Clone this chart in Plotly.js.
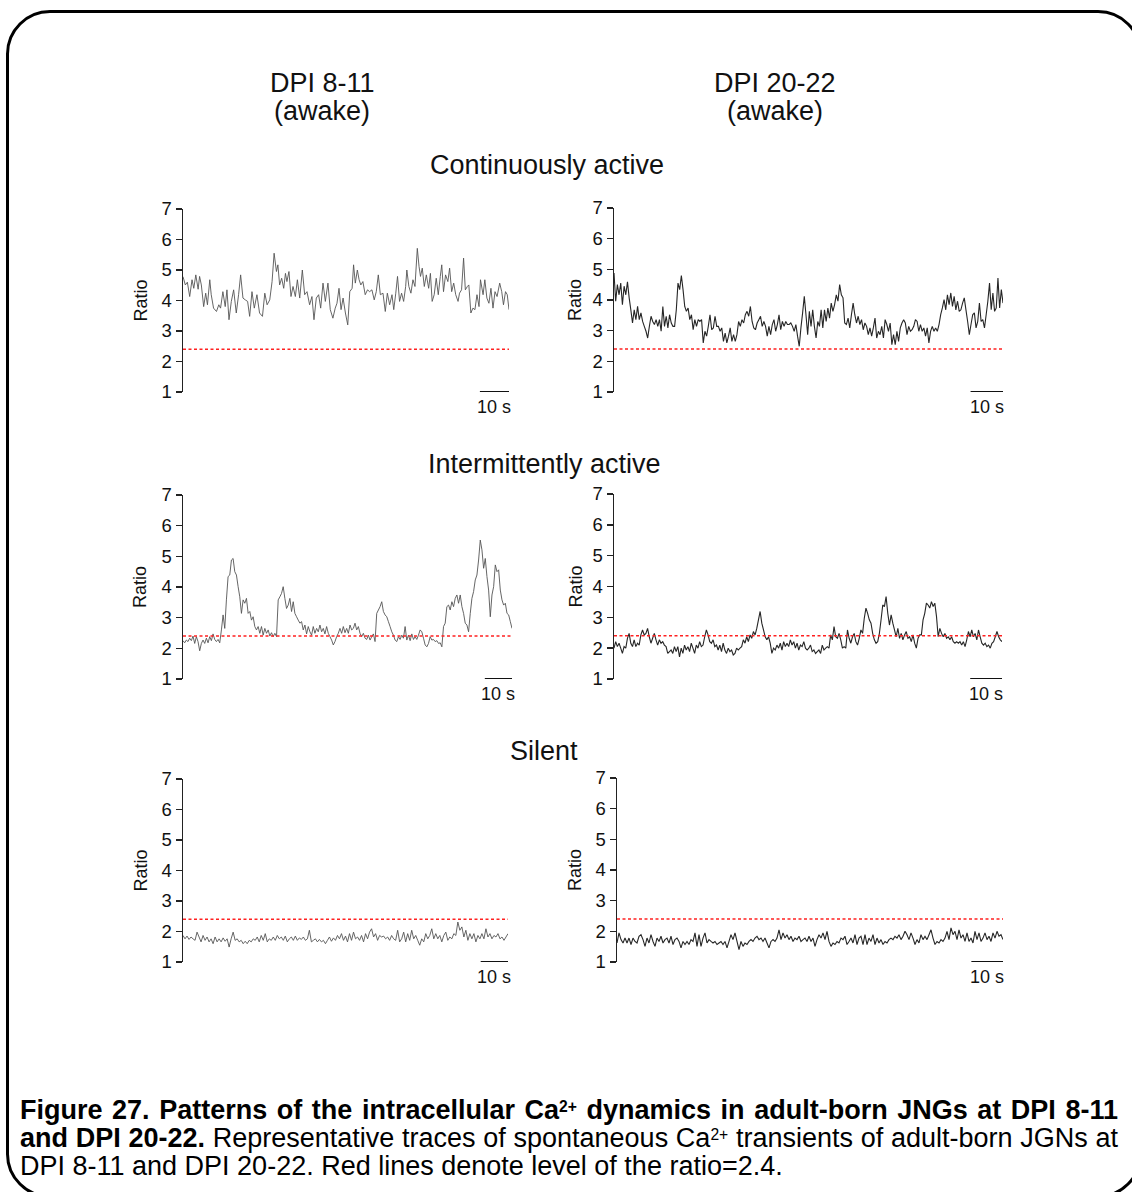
<!DOCTYPE html>
<html>
<head>
<meta charset="utf-8">
<script src="https://cdn.plot.ly/plotly-3.0.1.min.js"></script>
<style>
  html, body { margin: 0; padding: 0; background: #fff; overflow: hidden; }
  #wrap { position: relative; width: 1132px; height: 1192px; overflow: hidden; }
  #chart { position: absolute; left: 0; top: 0; width: 1132px; height: 1192px; }
  #frame { position: absolute; left: 6px; top: 10px; width: 1136px; height: 1188px;
           border: 3px solid #000; border-radius: 44px; box-sizing: border-box; pointer-events: none; }
  #caption { position: absolute; left: 20px; top: 1096px; width: 1098px;
             font-family: "Liberation Sans", Arial, sans-serif; font-size: 27px; line-height: 28px; color: #000; }
  #caption .j { text-align: justify; text-align-last: justify; }
  #caption sup { font-size: 0.58em; line-height: 1; vertical-align: 0.45em; }
</style>
</head>
<body>
<div id="wrap">
  <div id="chart"></div>
  <div id="frame"></div>
  <div id="caption">
    <div class="j"><b>Figure 27. Patterns of the intracellular Ca<sup>2+</sup> dynamics in adult-born JNGs at DPI 8-11</b></div>
    <div class="j"><b>and DPI 20-22.</b> Representative traces of spontaneous Ca<sup>2+</sup> transients of adult-born JGNs at</div>
    <div>DPI 8-11 and DPI 20-22. Red lines denote level of the ratio=2.4.</div>
  </div>
</div>
<script>
// ---------- data ----------
const columnTitles = ["DPI 8-11", "DPI 20-22"];
const columnSubtitles = ["(awake)", "(awake)"];
const rowTitles = ["Continuously active", "Intermittently active", "Silent"];
const yTicks = [1, 2, 3, 4, 5, 6, 7];
const thresholdRatio = 2.4;
const scaleBarSeconds = 10;
const scaleBarLabel = "10 s";
const yLabel = "Ratio";

// recording lengths (s)
const durations = [112, 120, 121, 122, 119, 122];

// DPI 8-11, continuously active: sample times (s) and ratio
const contYoungTime = [0.0,0.8,1.5,2.3,3.1,3.7,4.4,5.2,5.7,6.3,
  7.1,7.8,8.4,9.2,9.7,10.5,11.5,12.3,12.9,13.7,
  14.5,15.1,15.8,16.6,17.4,18.3,19.1,19.8,20.6,21.4,
  22.2,22.9,23.7,24.5,25.4,26.3,27.3,28.1,28.9,29.8,
  30.6,31.3,32.1,32.6,33.2,33.9,34.6,35.2,35.7,36.4,
  37.1,37.8,38.6,39.3,40.1,41.0,41.8,42.6,43.5,44.3,
  45.0,45.8,46.6,47.3,48.1,48.9,49.8,50.6,51.5,52.3,
  52.9,53.6,54.3,55.0,55.8,56.6,57.3,58.1,58.6,59.2,
  59.9,60.5,61.1,61.8,62.6,63.4,64.1,64.9,65.7,66.4,
  67.1,67.8,68.7,69.5,70.2,71.0,71.8,72.4,73.1,73.7,
  74.4,75.1,75.8,76.5,76.9,77.6,78.3,79.0,79.7,80.5,
  81.1,81.6,82.2,82.9,83.6,84.4,85.0,85.6,86.3,87.0,
  87.7,88.4,88.9,89.5,90.2,91.0,91.6,92.3,93.0,93.7,
  94.5,95.0,95.7,96.4,97.0,97.7,98.2,98.9,99.6,100.3,
  101.0,101.7,102.2,103.1,103.7,104.4,105.1,105.8,106.5,107.2,
  107.9,108.8,109.5,110.1,110.8,111.4,112.0];
const contYoungRatio = [4.78,4.51,4.6,4.13,4.68,4.4,4.84,4.37,4.79,4.51,
  3.8,4.24,3.86,4.68,4.19,3.75,3.64,3.86,3.75,4.29,
  3.8,4.35,3.37,3.97,4.35,3.59,4.19,4.84,4.08,4.02,
  3.97,3.48,4.29,3.75,4.19,3.59,3.48,4.24,3.86,4.02,
  4.62,5.55,4.95,5.17,4.51,4.73,4.4,4.89,4.62,4.95,
  4.13,4.46,4.13,4.68,4.08,5.0,4.19,4.29,3.86,4.13,
  3.37,4.08,4.19,3.75,4.57,3.97,4.57,3.7,3.42,3.75,
  3.91,4.4,3.7,4.08,3.59,3.2,4.29,4.4,5.17,4.57,
  5.0,4.68,4.51,4.62,4.19,4.35,4.29,4.35,4.02,4.29,
  4.84,4.19,4.24,3.64,4.24,3.86,4.19,3.7,4.24,4.79,
  3.97,4.24,3.97,4.46,5.0,4.46,4.24,4.68,4.46,5.71,
  5.11,4.79,5.06,4.46,4.84,4.4,4.89,3.97,4.19,4.73,
  4.19,4.79,5.17,4.29,4.84,4.62,5.06,4.29,4.57,4.19,
  3.97,4.24,4.35,5.39,4.35,4.46,4.51,3.59,3.75,3.7,
  4.19,3.8,4.68,4.19,4.68,4.08,3.91,4.4,3.75,4.29,
  4.13,4.57,4.29,3.86,4.29,4.19,3.7];

// DPI 20-22, continuously active (evenly sampled)
const contOldRatio = [4.88,3.96,4.5,4.17,4.55,3.85,4.45,4.17,4.59,4.07,
  3.68,3.25,3.68,3.36,3.79,3.36,3.58,3.3,3.14,2.98,
  2.76,3.14,3.47,3.3,3.2,3.36,3.14,3.36,2.98,3.79,
  3.14,3.47,3.09,3.52,3.25,3.14,3.14,3.68,4.55,4.34,
  4.8,4.34,3.79,3.63,3.74,3.36,3.52,3.03,3.36,3.14,
  3.36,3.3,3.36,2.6,2.98,2.82,3.14,3.52,3.03,3.09,
  3.47,3.14,3.14,2.98,3.09,2.65,2.92,2.6,2.82,3.09,
  2.65,2.87,2.65,2.87,3.3,3.14,3.36,3.25,3.52,3.63,
  3.47,3.79,3.3,3.09,3.03,3.25,3.36,3.47,3.14,3.3,
  3.14,2.82,3.14,2.87,3.2,3.36,2.98,3.2,3.52,3.03,
  3.3,3.14,3.3,3.2,3.2,3.25,3.14,2.98,3.2,2.82,
  2.49,3.09,3.58,4.12,3.52,2.87,3.63,3.14,3.68,3.14,
  2.76,3.3,3.14,3.68,3.09,3.68,3.3,3.74,3.41,3.9,
  3.63,3.85,4.17,3.96,4.5,4.17,4.07,3.25,3.2,3.41,
  3.09,3.52,3.9,3.52,3.25,3.47,3.2,3.36,3.03,3.25,
  3.14,2.87,3.09,2.82,3.09,3.41,2.76,2.98,2.87,3.14,
  2.76,3.36,3.2,2.98,3.25,2.54,2.87,2.54,2.98,2.65,
  3.09,3.25,3.36,3.25,2.87,3.14,2.98,3.03,3.14,3.36,
  3.3,2.98,3.2,2.98,3.09,2.82,3.09,2.6,2.98,3.14,
  2.98,3.09,2.98,3.2,3.52,3.74,4.01,3.68,4.17,3.85,
  4.23,3.79,4.12,3.68,3.96,3.63,3.68,3.9,4.07,3.68,
  3.3,2.87,3.2,3.52,3.58,3.09,3.3,3.9,3.3,3.36,
  3.09,3.52,3.96,4.55,3.68,4.23,3.63,3.74,4.72,3.74,
  4.34,3.9];

// DPI 8-11, intermittently active
const interYoungRatio = [2.25,2.18,2.27,2.22,2.33,2.25,2.4,2.16,2.38,2.22,
  1.92,2.16,2.27,2.16,2.33,2.18,2.38,2.25,2.47,2.29,
  2.22,2.29,2.18,2.6,3.09,2.65,3.58,4.34,4.39,4.88,
  4.93,4.5,4.39,4.01,3.68,3.14,3.58,3.47,3.63,3.14,
  3.2,2.92,3.03,2.71,2.6,2.71,2.49,2.71,2.43,2.65,
  2.49,2.6,2.4,2.51,2.38,2.49,2.38,3.58,3.68,3.79,
  4.01,3.63,3.3,3.41,3.63,3.2,3.52,3.14,3.03,2.92,
  2.82,2.87,2.6,2.76,2.47,2.71,2.54,2.43,2.71,2.49,
  2.65,2.54,2.76,2.54,2.65,2.47,2.71,2.49,2.38,2.27,
  2.11,2.22,2.38,2.49,2.65,2.49,2.71,2.51,2.65,2.49,
  2.76,2.6,2.65,2.82,2.6,2.71,2.49,2.38,2.49,2.33,
  2.29,2.43,2.27,2.38,2.47,2.22,3.14,3.25,3.36,3.52,
  3.2,3.09,3.03,2.87,2.71,2.54,2.43,2.27,2.22,2.38,
  2.29,2.43,2.33,2.71,2.27,2.43,2.25,2.47,2.29,2.38,
  2.29,2.43,2.6,2.54,2.33,2.11,2.05,2.16,2.38,2.27,
  2.29,2.22,2.25,2.16,2.18,2.05,2.71,2.82,3.36,3.41,
  3.25,3.52,3.36,3.63,3.74,3.47,3.74,3.36,3.14,2.82,
  2.76,2.54,3.14,3.63,3.85,4.23,4.39,4.88,5.53,5.21,
  4.61,4.93,4.34,3.9,3.03,3.74,4.01,4.72,4.5,4.56,
  3.9,3.58,3.41,3.47,3.14,3.09,2.87,2.65];

// DPI 20-22, intermittently active
const interOldRatio = [2.0,2.21,2.05,2.16,2.0,1.83,2.05,2.0,2.32,2.48,
  2.16,2.05,2.27,2.05,2.16,2.1,2.43,2.59,2.43,2.48,
  2.64,2.37,2.16,2.32,2.48,2.27,2.1,2.27,2.16,2.21,
  2.1,2.05,1.83,1.89,1.94,1.83,2.05,1.89,2.05,1.72,
  2.0,1.83,2.1,1.94,2.05,1.89,2.16,2.0,1.83,2.1,
  2.0,2.21,2.05,2.1,2.37,2.59,2.43,2.21,2.16,2.27,
  2.05,2.1,1.94,2.1,1.89,2.16,1.94,1.83,2.0,1.89,
  1.94,1.78,1.83,2.0,1.94,2.0,2.05,2.27,2.16,2.37,
  2.21,2.43,2.32,2.54,2.43,2.64,2.92,3.19,2.81,2.59,
  2.37,2.27,2.37,2.16,1.83,2.0,1.94,2.1,2.0,2.16,
  1.94,2.21,2.05,2.16,2.05,2.27,2.1,2.21,2.0,2.16,
  1.94,2.1,2.05,2.21,2.0,1.94,2.0,2.1,1.89,1.94,
  1.83,1.89,1.94,1.83,2.1,1.94,2.0,2.05,2.0,2.43,
  2.27,2.7,2.37,2.32,2.48,2.27,2.0,2.05,2.0,2.59,
  2.32,2.16,2.37,2.48,2.21,2.1,2.32,2.59,2.48,2.97,
  3.3,3.13,2.92,2.81,2.48,2.27,2.16,2.21,2.48,2.92,
  3.4,3.35,3.67,3.13,2.75,3.08,2.81,2.59,2.37,2.64,
  2.32,2.48,2.27,2.43,2.54,2.32,2.37,2.21,2.43,2.16,
  2.0,2.32,2.43,2.43,2.92,3.13,3.46,3.4,3.3,3.51,
  3.35,3.46,3.03,2.37,2.64,2.48,2.37,2.48,2.32,2.37,
  2.27,2.37,2.21,2.16,2.21,2.16,2.21,2.1,2.21,2.05,
  2.27,2.54,2.37,2.59,2.37,2.48,2.27,2.59,2.37,2.16,
  2.1,2.16,2.05,2.1,2.0,2.16,2.21,2.37,2.54,2.37,
  2.27,2.21];

// DPI 8-11, silent
const silentYoungRatio = [1.87,1.76,1.85,1.74,1.82,1.76,1.71,1.98,1.82,1.66,
  1.87,1.71,1.82,1.66,1.76,1.6,1.82,1.66,1.76,1.66,
  1.79,1.68,1.76,1.49,1.76,1.98,1.71,1.76,1.66,1.71,
  1.6,1.68,1.6,1.71,1.66,1.76,1.71,1.82,1.66,1.87,
  1.71,1.93,1.66,1.76,1.71,1.82,1.71,1.87,1.76,1.82,
  1.71,1.85,1.66,1.76,1.82,1.71,1.85,1.71,1.79,1.74,
  1.82,1.71,1.76,2.04,1.66,1.71,1.76,1.66,1.74,1.66,
  1.71,1.6,1.71,1.82,1.68,1.79,1.71,1.87,1.76,1.93,
  1.71,1.85,1.66,1.93,1.71,1.98,1.76,1.82,1.71,1.87,
  1.66,1.93,1.76,1.98,2.09,1.82,1.93,1.71,1.87,1.82,
  1.85,1.76,1.82,1.71,1.87,1.76,1.71,2.04,1.66,1.76,
  1.98,1.66,1.93,1.71,2.04,1.76,1.87,1.71,1.55,1.76,
  1.66,1.93,1.76,1.87,2.09,1.76,1.93,1.76,1.87,1.66,
  1.87,1.98,1.71,1.82,1.76,1.93,1.87,2.31,2.04,2.15,
  1.82,2.04,1.71,1.93,1.76,1.93,1.66,1.87,1.76,1.93,
  1.76,2.09,1.82,1.93,1.76,1.87,1.82,1.93,1.76,1.82,
  1.71,1.82,1.93];

// DPI 20-22, silent
const silentOldRatio = [1.62,1.95,1.73,1.62,1.78,1.62,1.78,1.57,1.78,1.67,
  1.62,1.84,1.89,1.73,1.51,1.78,1.62,1.89,1.67,1.51,
  1.78,1.67,1.84,1.62,1.73,1.78,1.62,1.84,1.57,1.73,
  1.78,1.67,1.46,1.67,1.57,1.67,1.57,1.73,1.67,1.95,
  1.51,1.89,1.51,1.78,1.95,1.62,1.73,1.67,1.62,1.67,
  1.57,1.62,1.67,1.57,1.67,1.46,1.67,1.89,1.73,1.95,
  1.67,1.4,1.67,1.51,1.62,1.57,1.67,1.73,1.67,1.78,
  1.84,1.73,1.78,1.67,1.78,1.62,1.46,1.67,1.73,1.67,
  1.78,2.05,1.73,1.95,1.78,1.89,1.73,1.84,1.67,1.78,
  1.73,1.84,1.67,1.73,1.78,1.67,1.84,1.67,1.78,1.51,
  1.73,1.89,1.78,1.95,1.73,2.0,1.67,1.51,1.62,1.57,
  1.67,1.62,1.78,1.73,1.84,1.57,1.67,1.78,1.62,1.89,
  1.57,1.78,1.84,1.57,1.89,1.57,1.78,1.67,1.89,1.57,
  1.78,1.62,1.73,1.57,1.67,1.62,1.73,1.78,1.73,1.84,
  1.78,1.89,1.73,1.84,2.0,1.89,1.73,1.95,1.78,1.57,
  1.73,1.62,1.89,1.73,1.84,1.73,1.89,2.05,1.78,1.57,
  1.67,1.62,1.73,1.67,1.78,2.0,1.73,2.11,1.89,2.0,
  1.73,2.05,1.78,1.89,1.67,1.95,1.67,1.78,1.62,2.0,
  1.73,1.95,1.67,1.78,1.95,1.73,1.84,1.67,1.95,1.78,
  2.0,1.84,1.89,1.73];

// ---------- layout ----------
const W = 1132, H = 1192;
const fx = px => px / W;
const fy = py => 1 - py / H;
const FONT = '"Liberation Sans", Arial, Helvetica, sans-serif';

function evenTimes(values, dur) {
  const step = dur / (values.length - 1);
  return values.map((_, i) => i * step);
}

// plot boxes: left/right x of the time axis, y of ratio 7 (top) and ratio 1 (bottom)
const panels = [
  { v: contYoungRatio,   t: contYoungTime, box: [183, 509, 209, 392], col: 0 },
  { v: contOldRatio,     t: null,          box: [614, 1003, 208, 392], col: 1 },
  { v: interYoungRatio,  t: null,          box: [183, 512, 495, 679], col: 0 },
  { v: interOldRatio,    t: null,          box: [614, 1002, 494, 679], col: 1 },
  { v: silentYoungRatio, t: null,          box: [183, 508, 779, 962], col: 0 },
  { v: silentOldRatio,   t: null,          box: [617, 1003, 778, 962], col: 1 }
];
const lineStyle = [
  { color: '#555555', width: 0.9 },
  { color: '#262626', width: 1.1 }
];

const traces = [];
const shapes = [];
const annotations = [];
const layout = {
  width: W, height: H,
  margin: { l: 0, r: 0, t: 0, b: 0, pad: 0 },
  paper_bgcolor: '#fff', plot_bgcolor: 'rgba(0,0,0,0)',
  showlegend: false,
  font: { family: FONT, color: '#111' },
  shapes: shapes,
  annotations: annotations
};

panels.forEach((p, i) => {
  const n = i === 0 ? '' : String(i + 1);
  const xa = 'x' + n, ya = 'y' + n;
  const dur = durations[i];
  const [x0, x1, yTop, yBot] = p.box;
  const times = p.t ? p.t : evenTimes(p.v, dur);

  traces.push({
    type: 'scatter', mode: 'lines',
    x: times, y: p.v, xaxis: xa, yaxis: ya,
    line: { color: lineStyle[p.col].color, width: lineStyle[p.col].width, simplify: false },
    hoverinfo: 'skip'
  });

  layout['xaxis' + n] = {
    domain: [fx(x0), fx(x1)], range: [0, dur], anchor: ya,
    visible: false, fixedrange: true
  };
  layout['yaxis' + n] = {
    domain: [fy(yBot), fy(yTop)], range: [yTicks[0], yTicks[yTicks.length - 1]], anchor: xa,
    tickmode: 'array', tickvals: yTicks, ticktext: yTicks.map(String),
    ticks: 'outside', ticklen: 6, tickwidth: 1.4, tickcolor: '#222',
    showline: true, linecolor: '#222', linewidth: 1.4,
    showgrid: false, zeroline: false, fixedrange: true,
    tickfont: { family: FONT, size: 18.5, color: '#111' }
  };

  // threshold line
  shapes.push({
    type: 'line', xref: xa, yref: ya, x0: 0, x1: dur, y0: thresholdRatio, y1: thresholdRatio,
    line: { color: '#ff2020', width: 1.5, dash: '3px,2.5px' }
  });
  // time scale bar
  shapes.push({
    type: 'line', xref: xa, yref: ya, x0: dur - scaleBarSeconds, x1: dur, y0: yTicks[0], y1: yTicks[0],
    line: { color: '#111', width: 2 }
  });
  annotations.push({
    xref: xa, yref: ya, x: dur - scaleBarSeconds / 2, y: yTicks[0],
    text: scaleBarLabel, showarrow: false, xanchor: 'center', yanchor: 'top', yshift: -3,
    font: { family: FONT, size: 18, color: '#111' }
  });
  // y label
  annotations.push({
    xref: 'paper', yref: 'paper', x: fx(p.col === 0 ? 140 : 575), y: fy((yTop + yBot) / 2),
    text: yLabel, textangle: -90, showarrow: false, xanchor: 'center', yanchor: 'middle',
    font: { family: FONT, size: 18, color: '#111' }
  });
});

// column and row headings
[322, 775].forEach((cx, c) => {
  annotations.push({
    xref: 'paper', yref: 'paper', x: fx(cx), y: fy(83),
    text: columnTitles[c], showarrow: false, xanchor: 'center', yanchor: 'middle',
    font: { family: FONT, size: 27, color: '#111' }
  });
  annotations.push({
    xref: 'paper', yref: 'paper', x: fx(cx), y: fy(111),
    text: columnSubtitles[c], showarrow: false, xanchor: 'center', yanchor: 'middle',
    font: { family: FONT, size: 27, color: '#111' }
  });
});
[[547, 165], [544, 464], [544, 751]].forEach((pos, r) => {
  annotations.push({
    xref: 'paper', yref: 'paper', x: fx(pos[0]), y: fy(pos[1]),
    text: rowTitles[r], showarrow: false, xanchor: 'center', yanchor: 'middle',
    font: { family: FONT, size: 27, color: '#111' }
  });
});

Plotly.newPlot('chart', traces, layout, { staticPlot: true, displayModeBar: false });
</script>
</body>
</html>
